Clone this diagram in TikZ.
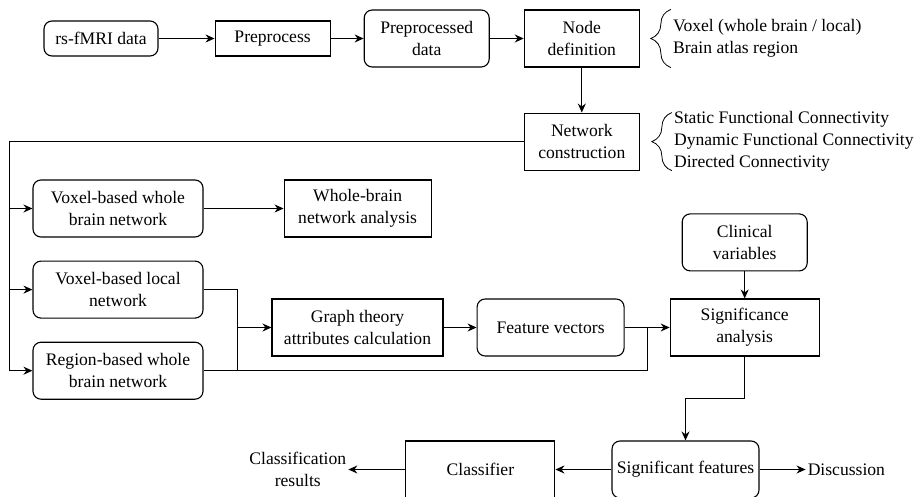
\documentclass[tikz,border=0pt]{standalone}
\usepackage{fontspec}
\setmainfont{Liberation Serif}
\usetikzlibrary{arrows.meta, positioning, calc, decorations.pathreplacing}

\begin{document}
\begin{tikzpicture}[
  x=1pt, y=-1pt,
  font=\fontsize{17.6}{22}\selectfont,
  node distance=30pt and 40pt,
  block/.style={draw,line width=1.1pt,minimum width=115pt,minimum height=57pt,inner sep=2pt,align=center},
  rblock/.style={block,rounded corners=8pt},
  note/.style={inner sep=0pt,align=left},
  plain/.style={inner sep=2pt,align=center},
  line/.style={line width=1.1pt},
  arrow/.style={line,-{Stealth[length=9pt,width=8pt]}},
  brace/.style={line width=0.8pt,decorate,decoration={brace,amplitude=20pt}}]
  \useasboundingbox (0,0) rectangle (920,497);
  \node[rblock,minimum width=114pt,minimum height=35pt] (data) at (101,38.5) {rs-fMRI data};
  \node[block,minimum height=35pt,right=56pt of data] (prep) {Preprocess};
  \node[rblock,minimum width=125pt,right=33pt of prep] (pdata) {Preprocessed\\data};
  \node[block,right=34pt of pdata] (ndef) {Node\\definition};
  \node[block,below=45pt of ndef] (ncon) {Network\\construction};
  \node[note,right=33pt of ndef] (ndefnote) {Voxel (whole brain / local)\\Brain atlas region};
  \node[note,right=34pt of ncon] (nconnote) {Static Functional Connectivity\\Dynamic Functional Connectivity\\Directed Connectivity};
  \node[rblock,minimum width=170pt] (vwb) at (118,208.5) {Voxel-based whole\\brain network};
  \node[block,minimum width=147pt,right=80pt of vwb] (wba) {Whole-brain\\network analysis};
  \node[rblock,minimum width=170pt,below=23pt of vwb] (vln) {Voxel-based local\\network};
  \node[rblock,minimum width=170pt,below=23pt of vln] (rwb) {Region-based whole\\brain network};
  \node[block,minimum width=171pt] (gta) at (357.5,327.5) {Graph theory\\attributes calculation};
  \node[rblock,minimum width=147pt,right=33pt of gta] (fv) {Feature vectors};
  \node[block,minimum width=149pt,right=45pt of fv] (sa) {Significance\\analysis};
  \node[rblock,minimum width=125pt,above=27pt of sa] (cv) {Clinical\\variables};
  \node[rblock,minimum width=147pt] (sf) at (685.5,469.5) {Significant features};
  \node[block,minimum width=149pt,left=56pt of sf] (clf) {Classifier};
  \node[plain,left=57pt of clf] (res) {Classification\\results};
  \node[plain,right=46pt of sf] (disc) {Discussion};
  \coordinate (trunk) at ([xshift=-23pt]rwb.west);
  \coordinate (mA) at ($(vln.east)!0.5!(gta.west)$);
  \coordinate (mB) at ($(fv.east)!0.5!(sa.west)$);
  \draw[arrow] (data)--(prep);
  \draw[arrow] (prep)--(pdata);
  \draw[arrow] (pdata)--(ndef);
  \draw[arrow] (ndef)--(ncon);
  \draw[brace] ([xshift=-2pt]ndef.south -| ndefnote.west) -- ([xshift=-2pt]ndef.north -| ndefnote.west);
  \draw[brace] ([xshift=-2pt]ncon.south -| nconnote.west) -- ([xshift=-2pt]ncon.north -| nconnote.west);
  \draw[line] (ncon.west) -| (trunk);
  \draw[arrow] (trunk |- vwb.west)--(vwb.west);
  \draw[arrow] (trunk |- vln.west)--(vln.west);
  \draw[arrow] (trunk)--(rwb.west);
  \draw[arrow] (vwb)--(wba);
  \draw[line] (vln.east) -| (mA |- rwb.east);
  \draw[arrow] (mA |- gta.west)--(gta.west);
  \draw[line] (rwb.east) -| (mB |- fv.east);
  \draw[arrow] (gta)--(fv);
  \draw[arrow] (fv)--(sa);
  \draw[arrow] (cv)--(sa);
  \draw[arrow] (sa.south) -- ++(0,42) -| (sf.north);
  \draw[arrow] (sf)--(clf);
  \draw[arrow] (clf)--(res);
  \draw[arrow] (sf)--(disc);
\end{tikzpicture}
\end{document}
